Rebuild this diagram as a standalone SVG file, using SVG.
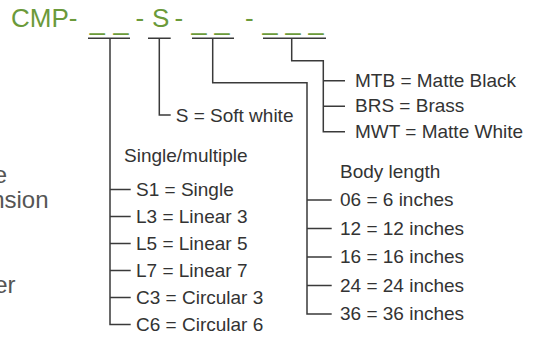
<svg xmlns="http://www.w3.org/2000/svg" width="533" height="339" viewBox="0 0 533 339">
<style>
.t{font-family:"Liberation Sans",Arial,sans-serif;font-size:19px;fill:#333}
.g{font-family:"Liberation Sans",Arial,sans-serif;font-size:26px;fill:#6b9a3a}
.u{font-family:"Liberation Sans",Arial,sans-serif;font-size:27px;fill:#6b9a3a}
.f{font-family:"Liberation Sans",Arial,sans-serif;font-size:24px;fill:#555}
.c{fill:none;stroke:#3a3a3a;stroke-width:1.5}
</style>
<rect width="533" height="339" fill="#fff"/>
<g id="left-fragments">
<text class="f" x="7" y="183.3" text-anchor="end">e</text>
<text class="f" x="48.5" y="208.3" text-anchor="end">nsion</text>
<text class="f" x="15.5" y="293.3" text-anchor="end">er</text>
</g>
<g id="title">
<text class="g" x="11" y="26.8">CMP-</text>
<text class="g" x="135.6" y="26.8">-</text>
<text class="g" x="152" y="26.8">S</text>
<text class="g" x="174.6" y="26.8">-</text>
<text class="g" x="244.9" y="26.8">-</text>
<text class="u" y="28.5"><tspan x="89.7">_</tspan><tspan x="113.4">_</tspan><tspan x="191.4">_</tspan><tspan x="214.4">_</tspan><tspan x="262.4">_</tspan><tspan x="285.4">_</tspan><tspan x="308.4">_</tspan></text>
</g>
<g id="connectors">
<path class="c" d="M88 38.3H130M148 38.3H170.7M192 38.3H234M263 38.3H326"/>
<path class="c" d="M110 38.3V324.5H130.7M110 189.5H130.7M110 216.5H130.7M110 243.5H130.7M110 270.5H130.7M110 297.5H130.7"/>
<path class="c" d="M159.3 38.3V115H170.7"/>
<path class="c" d="M212.7 38.3V82.7H307V314H331.7M307 200H331.7M307 228.5H331.7M307 257H331.7M307 285.5H331.7"/>
<path class="c" d="M291.7 38.3V60.7H323.3V131.7H345M323.3 80.7H345M323.3 106.2H345"/>
</g>
<g id="soft-white">
<text class="t" x="175.7" y="121.5">S = Soft white</text>
</g>
<g id="single-multiple">
<text class="t" x="124" y="161.7">Single/multiple</text>
<text class="t" x="136" y="195.5">S1 = Single</text>
<text class="t" x="136" y="222.5">L3 = Linear 3</text>
<text class="t" x="136" y="249.5">L5 = Linear 5</text>
<text class="t" x="136" y="276.5">L7 = Linear 7</text>
<text class="t" x="136" y="303.5">C3 = Circular 3</text>
<text class="t" x="136" y="330.5">C6 = Circular 6</text>
</g>
<g id="body-length">
<text class="t" x="340" y="178.3">Body length</text>
<text class="t" x="340" y="206">06 = 6 inches</text>
<text class="t" x="340" y="234.5">12 = 12 inches</text>
<text class="t" x="340" y="263">16 = 16 inches</text>
<text class="t" x="340" y="291.5">24 = 24 inches</text>
<text class="t" x="340" y="320">36 = 36 inches</text>
</g>
<g id="finish">
<text class="t" x="355" y="86.5">MTB = Matte Black</text>
<text class="t" x="355" y="112">BRS = Brass</text>
<text class="t" x="355" y="137.5">MWT = Matte White</text>
</g>
</svg>
